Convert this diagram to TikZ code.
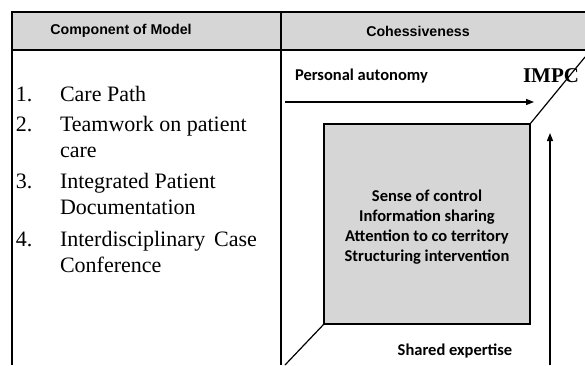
\documentclass[tikz,border=0pt]{standalone}
\usepackage{fontspec}
\setmainfont{Liberation Serif}
\newfontfamily\headfont{Liberation Sans}
\newfontfamily\calfont{Carlito}
\usetikzlibrary{arrows.meta}
\usetikzlibrary{positioning}
\newcommand{\rulecolor}{black}
\colorlet{cellgray}{black!16}
\tikzstyle{every node}=[inner sep=0, outer sep=0]
\tikzstyle{headtext}=[font=\headfont\bfseries\fontsize{14.2}{17}\selectfont]
\tikzstyle{listtext}=[anchor=base west, font=\fontsize{22}{26}\selectfont]
\tikzstyle{calitext}=[font=\calfont\bfseries\fontsize{16.5}{20}\selectfont]
\tikzstyle{tablerule}=[line width=2.5pt, \rulecolor]
\tikzstyle{flow}=[line width=1.2pt, -{Triangle[length=8pt,width=6pt]}]
\newcommand{\listline}[3]{\node[listtext] (#1) at (#2) {#3};}

\begin{document}
\begin{tikzpicture}[x=1pt, y=-1pt]
\useasboundingbox (0,0) rectangle (585,365);

% table frame
\fill[cellgray] (12,12) rectangle (585,50);
\draw[tablerule] (585,12) -- (12,12) -- (12,365);
\draw[tablerule] (12,50) -- (585,50);
\draw[tablerule] (281,12) -- (281,365);

\node[headtext] (hleft) at (121,31) {Component of Model};
\node[headtext] (hright) at (418,31) {Cohessiveness};

% components
\listline{n1}{16,101}{1.}
\listline{n2}{16,131}{2.}
\listline{n3}{16,188}{3.}
\listline{n4}{16,246}{4.}
\listline{c1}{60,101}{Care Path}
\listline{c2}{60,131}{Teamwork on patient}
\listline{c2b}{60,157}{care}
\listline{c3}{60,188}{Integrated Patient}
\listline{c3b}{60,214}{Documentation}
\listline{c4}{60,246}{Interdisciplinary\hspace{0.15em} Case}
\listline{c4b}{60,272}{Conference}

% cohessiveness
\node[calitext, anchor=base west] (auto) at (295,80) {Personal autonomy};
\node[anchor=base west, font=\bfseries\fontsize{21}{24}\selectfont] (impc) at (523,82) {IMPC};
\node[draw, line width=1.5pt, fill=cellgray, minimum width=206pt,
      minimum height=200pt] (core) at (427,224) {};
\node[calitext, align=center] (ideas) at (427,227)
      {Sense of control\\Information sharing\\Attention to co territory\\Structuring intervention};
\node[calitext, anchor=base] (shared) at (455,355) {Shared expertise};

\coordinate (autostart) at (285,102);
\coordinate (autoend) at (534,102);
\coordinate (sharedstart) at (550,365);
\coordinate (sharedend) at (550,133);
\coordinate (diagtop) at (585,57);
\coordinate (diagbot) at (285,365);

\draw[flow] (autostart) -- (autoend);
\draw[flow] (sharedstart) -- (sharedend);
\draw[line width=1.2pt] (core.north east) -- (diagtop);
\draw[line width=1.2pt] (core.south west) -- (diagbot);
\end{tikzpicture}
\end{document}
